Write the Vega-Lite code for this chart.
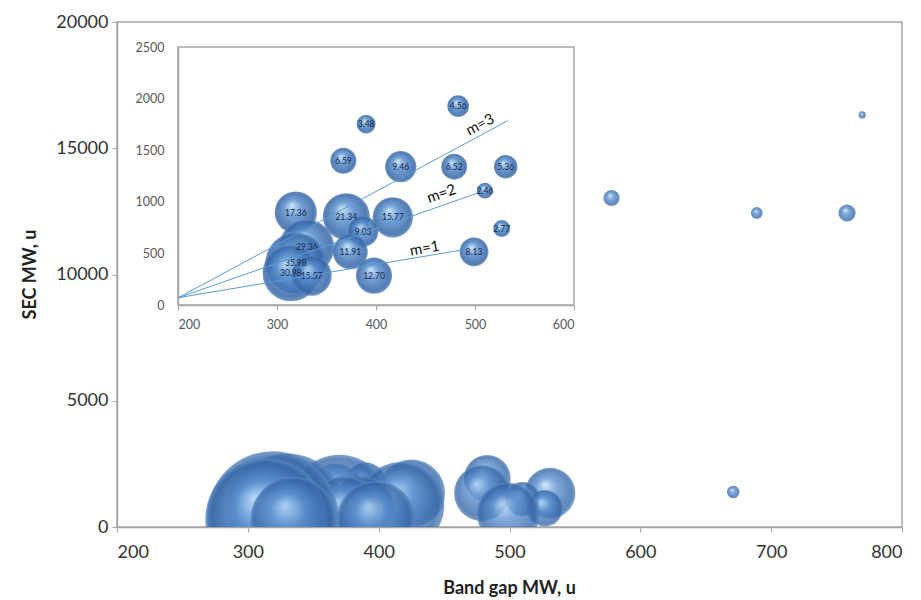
{
  "$schema": "https://vega.github.io/schema/vega-lite/v6.json",
  "width": 785,
  "height": 505,
  "autosize": {"type": "none"},
  "padding": {"left": 117, "top": 22, "right": 19, "bottom": 73},
  "background": "white",
  "config": {
    "font": "Lato",
    "view": {"stroke": "#a6a6a6", "strokeWidth": 1.5},
    "axis": {"grid": false}
  },
  "datasets": {
    "bubbles": [
      {"bandgap": 483, "sec": 1927, "size": 4.56, "label": "4.56", "inset": true},
      {"bandgap": 390, "sec": 1753, "size": 3.48, "label": "3.48", "inset": true},
      {"bandgap": 367, "sec": 1398, "size": 6.59, "label": "6.59", "inset": true},
      {"bandgap": 425, "sec": 1340, "size": 9.46, "label": "9.46", "inset": true},
      {"bandgap": 479, "sec": 1340, "size": 6.52, "label": "6.52", "inset": true},
      {"bandgap": 531, "sec": 1340, "size": 5.36, "label": "5.36", "inset": true},
      {"bandgap": 510, "sec": 1108, "size": 2.46, "label": "2.46", "inset": true},
      {"bandgap": 319, "sec": 896, "size": 17.36, "label": "17.36", "inset": true},
      {"bandgap": 370, "sec": 857, "size": 21.34, "label": "21.34", "inset": true},
      {"bandgap": 417, "sec": 850, "size": 15.77, "label": "15.77", "inset": true},
      {"bandgap": 387, "sec": 712, "size": 9.03, "label": "9.03", "inset": true},
      {"bandgap": 527, "sec": 741, "size": 2.77, "label": "2.77", "inset": true},
      {"bandgap": 330, "sec": 561, "size": 29.36, "label": "29.36", "inset": true},
      {"bandgap": 374, "sec": 515, "size": 11.91, "label": "11.91", "inset": true},
      {"bandgap": 499, "sec": 515, "size": 8.13, "label": "8.13", "inset": true},
      {"bandgap": 319, "sec": 406, "size": 35.98, "label": "35.98", "inset": true},
      {"bandgap": 314, "sec": 309, "size": 30.98, "label": "30.98", "inset": true},
      {"bandgap": 335, "sec": 284, "size": 15.57, "label": "15.57", "inset": true},
      {"bandgap": 398, "sec": 284, "size": 12.70, "label": "12.70", "inset": true},
      {"bandgap": 578, "sec": 13030, "size": 0.55, "label": "", "inset": false},
      {"bandgap": 689, "sec": 12436, "size": 0.29, "label": "", "inset": false},
      {"bandgap": 758, "sec": 12436, "size": 0.62, "label": "", "inset": false},
      {"bandgap": 769.6, "sec": 16317, "size": 0.11, "label": "", "inset": false},
      {"bandgap": 671, "sec": 1386, "size": 0.33, "label": "", "inset": false}
    ],
    "box": [
      {"bandgap": 200, "bandgap2": 600, "sec": 0, "sec2": 2500}
    ],
    "mlines": [
      {"m": "m=1", "bandgap": 200, "sec": 70},
      {"m": "m=1", "bandgap": 488, "sec": 535},
      {"m": "m=2", "bandgap": 200, "sec": 70},
      {"m": "m=2", "bandgap": 502, "sec": 1082},
      {"m": "m=3", "bandgap": 200, "sec": 70},
      {"m": "m=3", "bandgap": 533, "sec": 1785}
    ],
    "mlabels": [
      {"m": "m=1", "bandgap": 449, "sec": 550},
      {"m": "m=2", "bandgap": 466, "sec": 1080},
      {"m": "m=3", "bandgap": 505, "sec": 1750}
    ]
  },
  "layer": [
    {
      "data": {"name": "bubbles"},
      "mark": {
        "type": "circle",
        "clip": true,
        "fill": {
          "gradient": "radial",
          "x1": 0.4, "y1": 0.33, "r1": 0,
          "x2": 0.5, "y2": 0.5, "r2": 0.5,
          "stops": [
            {"offset": 0, "color": "#c4e2fb"},
            {"offset": 0.4, "color": "#5b90cf"},
            {"offset": 0.88, "color": "#3465a5"},
            {"offset": 1, "color": "#5a86bf"}
          ]
        },
        "fillOpacity": 0.78
      },
      "encoding": {
        "x": {
          "field": "bandgap", "type": "quantitative",
          "scale": {"domain": [200, 800], "nice": false, "zero": false},
          "axis": {
            "orient": "bottom",
            "values": [200, 300, 400, 500, 600, 700, 800],
            "format": "d",
            "title": "Band gap MW, u",
            "labelFontSize": 18, "labelColor": "#333333", "labelPadding": 11,
            "tickSize": 5, "tickColor": "#a6a6a6", "domainColor": "#a6a6a6", "domainWidth": 1.5,
            "titleFontSize": 18, "titleFontWeight": "bold", "titleColor": "#222222",
            "titleX": 392, "titleY": 61, "titleBaseline": "middle", "titleAlign": "center"
          }
        },
        "y": {
          "field": "sec", "type": "quantitative",
          "scale": {"domain": [0, 20000], "nice": false},
          "axis": {
            "orient": "left",
            "values": [0, 5000, 10000, 15000, 20000],
            "format": "d",
            "title": "SEC MW, u",
            "labelFontSize": 18, "labelColor": "#333333", "labelPadding": 4,
            "tickSize": 5, "tickColor": "#a6a6a6", "domainColor": "#a6a6a6", "domainWidth": 1.5,
            "titleFontSize": 18, "titleFontWeight": "bold", "titleColor": "#222222",
            "titleX": -87, "titleY": 252, "titleAngle": -90, "titleBaseline": "middle", "titleAlign": "center"
          }
        },
        "size": {
          "field": "size", "type": "quantitative",
          "scale": {"domain": [0, 35.98], "range": [0, 17200]},
          "legend": null
        }
      }
    },
    {
      "encoding": {
        "x": {
          "field": "bandgap", "type": "quantitative",
          "scale": {"domain": [200, 600], "range": [61, 457], "nice": false, "zero": false},
          "axis": {
            "orient": "bottom", "offset": -222,
            "values": [200, 300, 400, 500, 600],
            "format": "d",
            "title": null,
            "labelFontSize": 12.5, "labelColor": "#595959", "labelPadding": 8,
            "tickSize": 5, "tickColor": "#a6a6a6", "domainColor": "#a6a6a6", "domainWidth": 1.5
          }
        },
        "y": {
          "field": "sec", "type": "quantitative",
          "scale": {"domain": [0, 2500], "range": [283, 25], "nice": false},
          "axis": {
            "orient": "left", "offset": -61,
            "values": [0, 500, 1000, 1500, 2000, 2500],
            "format": "d",
            "title": null,
            "labelFontSize": 12.5, "labelColor": "#595959", "labelPadding": 14,
            "tickSize": 0, "domainColor": "#a6a6a6", "domainWidth": 1.5
          }
        }
      },
      "layer": [
        {
          "data": {"name": "box"},
          "mark": {"type": "rect", "fillOpacity": 0, "stroke": "#a6a6a6", "strokeWidth": 1.5},
          "encoding": {
            "x2": {"field": "bandgap2"},
            "y2": {"field": "sec2"}
          }
        },
        {
          "data": {"name": "bubbles"},
          "transform": [{"filter": "datum.inset"}],
          "mark": {
            "type": "circle",
            "fill": {
              "gradient": "radial",
              "x1": 0.4, "y1": 0.33, "r1": 0,
              "x2": 0.5, "y2": 0.5, "r2": 0.5,
              "stops": [
                {"offset": 0, "color": "#c4e2fb"},
                {"offset": 0.4, "color": "#5b90cf"},
                {"offset": 0.88, "color": "#3465a5"},
                {"offset": 1, "color": "#5a86bf"}
              ]
            },
            "fillOpacity": 0.85
          },
          "encoding": {
            "size": {
              "field": "size", "type": "quantitative",
              "scale": {"domain": [0, 35.98], "range": [0, 3700]},
              "legend": null
            }
          }
        },
        {
          "data": {"name": "bubbles"},
          "transform": [{"filter": "datum.inset"}],
          "mark": {"type": "text", "fontSize": 8.5, "color": "#1c2a48"},
          "encoding": {
            "text": {"field": "label", "type": "nominal"}
          }
        },
        {
          "data": {"name": "mlines"},
          "mark": {"type": "line", "color": "#5b9bd5", "strokeWidth": 1},
          "encoding": {
            "detail": {"field": "m", "type": "nominal"}
          }
        },
        {
          "data": {"name": "mlabels"},
          "transform": [{"filter": "datum.m == 'm=1'"}],
          "mark": {"type": "text", "fontSize": 15, "color": "#111111", "angle": -10},
          "encoding": {"text": {"field": "m", "type": "nominal"}}
        },
        {
          "data": {"name": "mlabels"},
          "transform": [{"filter": "datum.m == 'm=2'"}],
          "mark": {"type": "text", "fontSize": 15, "color": "#111111", "angle": -19},
          "encoding": {"text": {"field": "m", "type": "nominal"}}
        },
        {
          "data": {"name": "mlabels"},
          "transform": [{"filter": "datum.m == 'm=3'"}],
          "mark": {"type": "text", "fontSize": 15, "color": "#111111", "angle": -28},
          "encoding": {"text": {"field": "m", "type": "nominal"}}
        }
      ]
    }
  ],
  "resolve": {
    "scale": {"x": "independent", "y": "independent", "size": "independent"},
    "axis": {"x": "independent", "y": "independent"}
  }
}
